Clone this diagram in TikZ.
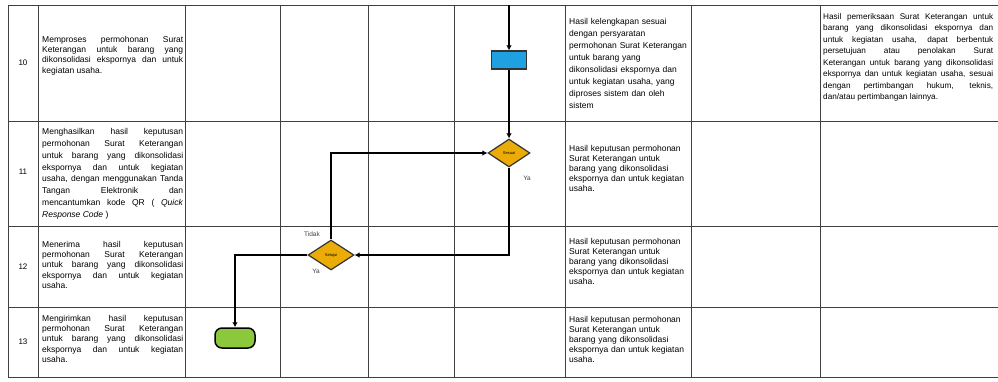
\documentclass[tikz,border=0pt]{standalone}
\usepackage{fontspec}
\setmainfont{Liberation Sans}
\usetikzlibrary{shapes.geometric,arrows.meta}
\hyphenpenalty=10000
\exhyphenpenalty=10000

\tikzset{
  garis/.style={black!75, line width=0.8pt},
  alur/.style={line width=2.2pt, -{Latex[length=5pt,width=5.5pt]}},
  uraian/.style={anchor=north west, inner sep=0pt, text width=141pt, align=justify,
    font=\fontsize{8.5}{10.3}\selectfont},
  keluaran/.style={anchor=north west, inner sep=0pt, text width=124pt, align=left,
    font=\fontsize{8.5}{10}\selectfont},
  catatan/.style={anchor=north west, inner sep=0pt, text width=170pt, align=justify,
    font=\fontsize{8.2}{11.5}\selectfont},
  nomor/.style={inner sep=0pt, font=\fontsize{8}{9}\selectfont},
  putusan/.style={diamond, draw=black!80, line width=1.2pt, fill={rgb,255:red,235;green,172;blue,8},
    minimum width=42pt, minimum height=28pt, inner sep=0pt, font=\fontsize{4}{4}\selectfont},
  label/.style={inner sep=0pt, font=\fontsize{6.5}{7}\selectfont, text=black!75}
}

\begin{document}
\begin{tikzpicture}[x=1pt, y=-1pt]
  \useasboundingbox (0,0) rectangle (998,381);

  % tabel
  \foreach \y in {5,121,226,307,377}
    \draw[garis] (8,\y) -- (998,\y);
  \foreach \x in {8,38,185,280,368,454,565,691,820}
    \draw[garis] (\x,5) -- (\x,377);

  % nomor
  \node[nomor] (n10) at (23,63) {10};
  \node[nomor] (n11) at (23,172) {11};
  \node[nomor] (n12) at (23,267) {12};
  \node[nomor] (n13) at (23,342) {13};

  % uraian kegiatan
  \node[uraian] (u10) at (42,36) {Memproses permohonan Surat\linebreak Keterangan untuk barang yang\linebreak dikonsolidasi ekspornya dan untuk\linebreak kegiatan usaha.};
  \node[uraian, font=\fontsize{8.5}{11.9}\selectfont] (u11) at (42,128) {Menghasilkan hasil keputusan\linebreak permohonan Surat Keterangan\linebreak untuk barang yang dikonsolidasi\linebreak ekspornya dan untuk kegiatan\linebreak usaha, dengan menggunakan Tanda\linebreak Tangan Elektronik dan\linebreak mencantumkan kode QR ( \textit{Quick}\linebreak \textit{Response Code} )};
  \node[uraian] (u12) at (42,241) {Menerima hasil keputusan\linebreak permohonan Surat Keterangan\linebreak untuk barang yang dikonsolidasi\linebreak ekspornya dan untuk kegiatan\linebreak usaha.};
  \node[uraian] (u13) at (42,315) {Mengirimkan hasil keputusan\linebreak permohonan Surat Keterangan\linebreak untuk barang yang dikonsolidasi\linebreak ekspornya dan untuk kegiatan\linebreak usaha.};

  % keluaran
  \node[keluaran, font=\fontsize{8.5}{12}\selectfont] (k10) at (569,18) {Hasil kelengkapan sesuai\\ dengan persyaratan\\ permohonan Surat Keterangan\\ untuk barang yang\\ dikonsolidasi ekspornya dan\\ untuk kegiatan usaha, yang\\ diproses sistem dan oleh\\ sistem};
  \node[keluaran] (k11) at (569,145) {Hasil keputusan permohonan\\ Surat Keterangan untuk\\ barang yang dikonsolidasi\\ ekspornya dan untuk kegiatan\\ usaha.};
  \node[keluaran] (k12) at (569,238) {Hasil keputusan permohonan\\ Surat Keterangan untuk\\ barang yang dikonsolidasi\\ ekspornya dan untuk kegiatan\\ usaha.};
  \node[keluaran] (k13) at (569,316) {Hasil keputusan permohonan\\ Surat Keterangan untuk\\ barang yang dikonsolidasi\\ ekspornya dan untuk kegiatan\\ usaha.};

  % keterangan
  \node[catatan] (c10) at (823,13) {Hasil pemeriksaan Surat Keterangan untuk\linebreak barang yang dikonsolidasi ekspornya dan\linebreak untuk kegiatan usaha, dapat berbentuk\linebreak persetujuan atau penolakan Surat\linebreak Keterangan untuk barang yang dikonsolidasi\linebreak ekspornya dan untuk kegiatan usaha, sesuai\linebreak dengan pertimbangan hukum, teknis,\linebreak dan/atau pertimbangan lainnya.};

  % bagan alur
  \coordinate (masuk) at (509,5);
  \node[draw=black!80, line width=1.2pt, fill={rgb,255:red,30;green,160;blue,225},
    minimum width=35pt, minimum height=18pt, inner sep=0pt] (proses) at (509,60) {};
  \node[putusan] (cek1) at (509,153) {Sesuai};
  \node[putusan, minimum width=46pt, minimum height=30pt] (cek2) at (331,255) {Setujui};
  \node[draw=black, line width=1.5pt, rounded corners=7pt, fill={rgb,255:red,140;green,200;blue,60},
    minimum width=40pt, minimum height=20pt] (selesai) at (235,338) {};

  \draw[alur] (masuk) -- (proses.north);
  \draw[alur] (proses.south) -- (cek1.north);
  \draw[alur] (cek1.south) |- (cek2.east);
  \draw[alur] (cek2.north) |- (cek1.west);
  \draw[alur] (cek2.west) -| (selesai.north);

  \node[label] (ya1) at (527,178) {Ya};
  \node[label] (tidak2) at (312,234) {Tidak};
  \node[label] (ya2) at (316,271) {Ya};
\end{tikzpicture}
\end{document}
